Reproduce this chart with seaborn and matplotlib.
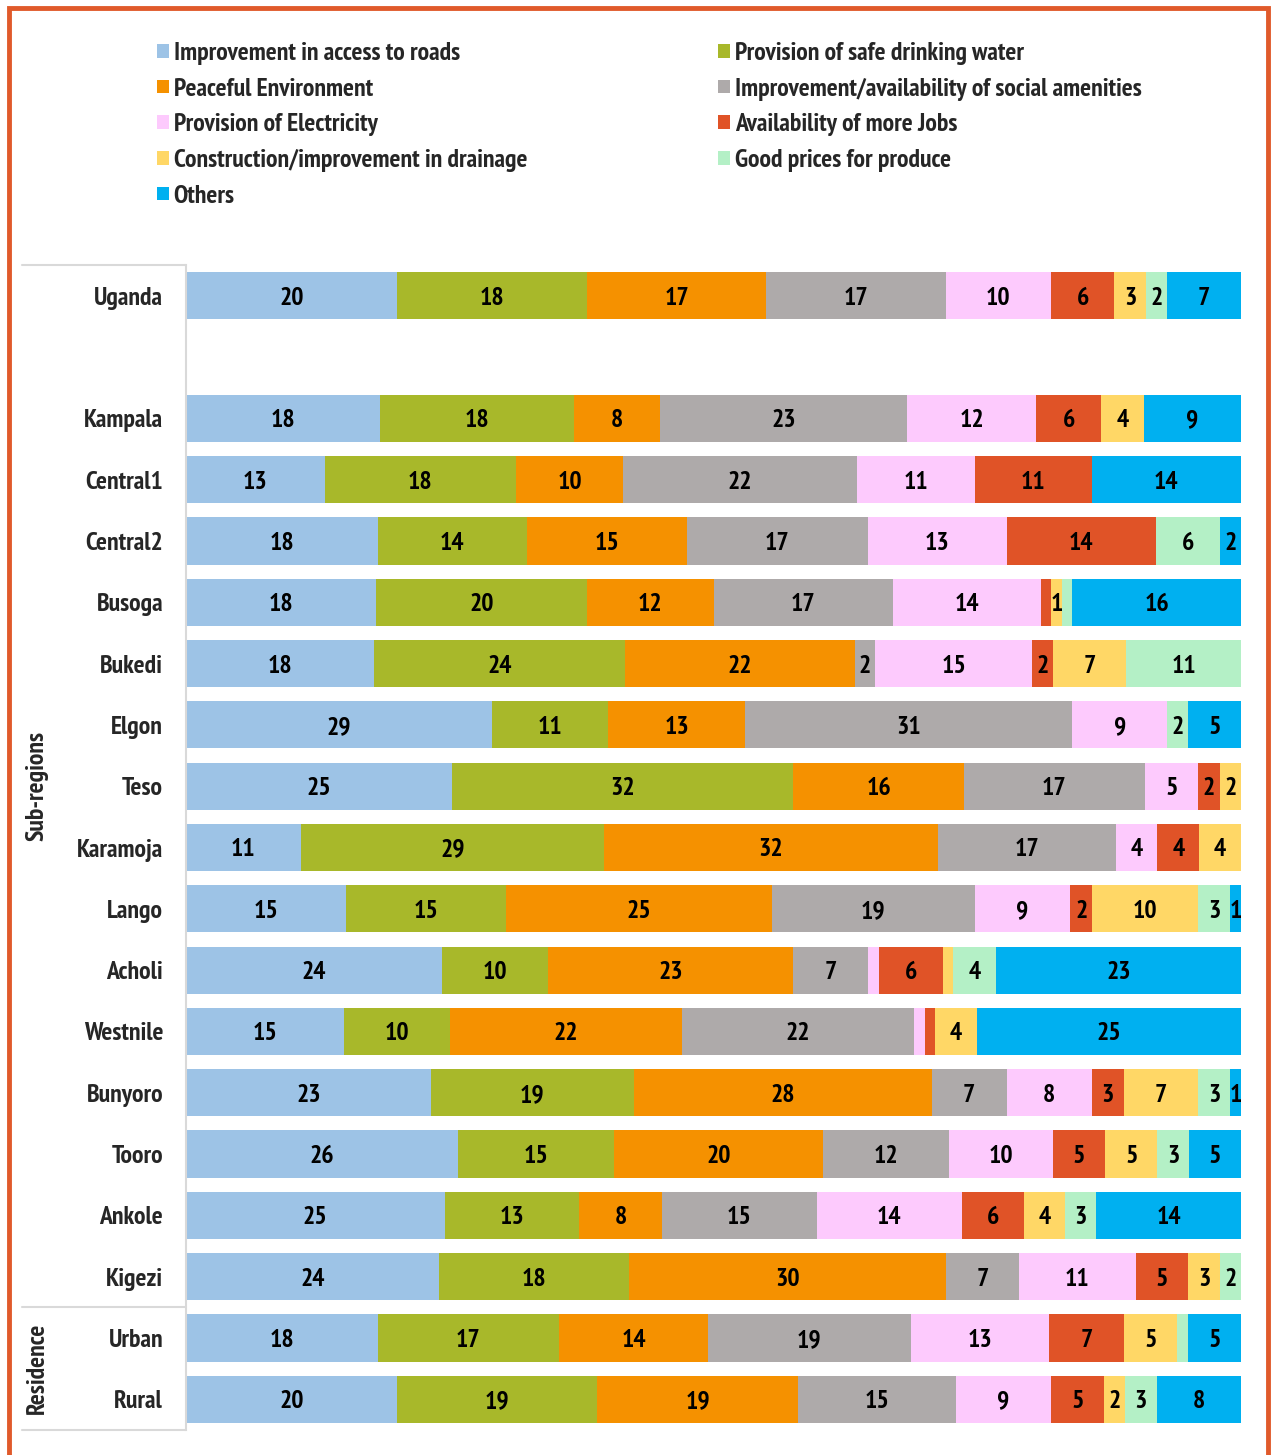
import numpy as np
import pandas as pd
import seaborn as sns
import matplotlib.pyplot as plt
from matplotlib import font_manager as fm
from matplotlib.patches import Patch, Rectangle
from matplotlib.lines import Line2D
import matplotlib.transforms as mtransforms

# ---------------- data ----------------
categories = [
    "Improvement in access to roads",
    "Provision of safe drinking water",
    "Peaceful Environment",
    "Improvement/availability of social amenities",
    "Provision of Electricity",
    "Availability of more Jobs",
    "Construction/improvement in drainage",
    "Good prices for produce",
    "Others",
]
colors = ["#9DC3E6", "#A8B82A", "#F59100", "#AEAAAA", "#FDCAFD",
          "#E05327", "#FFD766", "#B4F0C6", "#00B0F0"]

rows = ["Uganda", "Kampala", "Central1", "Central2", "Busoga", "Bukedi", "Elgon",
        "Teso", "Karamoja", "Lango", "Acholi", "Westnile", "Bunyoro", "Tooro",
        "Ankole", "Kigezi", "Urban", "Rural"]

uganda   = [20, 18, 17, 17, 10, 6, 3, 2, 7]
kampala  = [18, 18, 8, 23, 12, 6, 4, 0, 9]
central1 = [13, 18, 10, 22, 11, 11, 0, 0, 14]
central2 = [18, 14, 15, 17, 13, 14, 0, 6, 2]
busoga   = [18, 20, 12, 17, 14, 1, 1, 1, 16]
bukedi   = [18, 24, 22, 2, 15, 2, 7, 11, 0]
elgon    = [29, 11, 13, 31, 9, 0, 0, 2, 5]
teso     = [25, 32, 16, 17, 5, 2, 2, 0, 0]
karamoja = [11, 29, 32, 17, 4, 4, 4, 0, 0]
lango    = [15, 15, 25, 19, 9, 2, 10, 3, 1]
acholi   = [24, 10, 23, 7, 1, 6, 1, 4, 23]
westnile = [15, 10, 22, 22, 1, 1, 4, 0, 25]
bunyoro  = [23, 19, 28, 7, 8, 3, 7, 3, 1]
tooro    = [26, 15, 20, 12, 10, 5, 5, 3, 5]
ankole   = [25, 13, 8, 15, 14, 6, 4, 3, 14]
kigezi   = [24, 18, 30, 7, 11, 5, 3, 2, 0]
urban    = [18, 17, 14, 19, 13, 7, 5, 1, 5]
rural    = [20, 19, 19, 15, 9, 5, 2, 3, 8]

values = [uganda, kampala, central1, central2, busoga, bukedi, elgon, teso, karamoja,
          lango, acholi, westnile, bunyoro, tooro, ankole, kigezi, urban, rural]

# segments whose value label is not shown in the original
hidden_labels = {("Busoga", 5), ("Busoga", 7), ("Acholi", 4), ("Acholi", 6),
                 ("Westnile", 4), ("Westnile", 5), ("Urban", 7)}

spacer = " "
order = [rows[0], spacer] + rows[1:]

# ---------------- style ----------------
sns.set_theme(style="white")

# look for a narrow / condensed bold face; fall back to Liberation Sans
def find_condensed():
    cands = []
    for f in fm.fontManager.ttflist:
        nm = f.name.lower()
        fn = f.fname.lower()
        score = None
        if "narrow" in nm or "narrow" in fn:
            score = 0
        elif "condensed" in nm or "condensed" in fn or str(f.stretch) in ("condensed", "semi-condensed", "500", "75", "87"):
            if "semicondensed" in fn or "semi" in str(f.stretch):
                score = 3
            else:
                score = 1 if "dejavu" not in nm else 2
        if score is None:
            continue
        if "oblique" in fn or "italic" in fn or f.style != "normal":
            continue
        w = f.weight if isinstance(f.weight, int) else 700 if "bold" in str(f.weight) else 400
        if w < 600:
            score += 0.5
        cands.append((score, f.fname))
    cands.sort()
    return cands[0][1] if cands else None

cfile = find_condensed()
if cfile:
    fm.fontManager.addfont(cfile)
    base = fm.FontProperties(fname=cfile)
    fam = [base.get_name(), "DejaVu Sans"]
    fs = 18.5
else:
    fam = ["Liberation Sans", "DejaVu Sans"]
    fs = 14

plt.rcParams["font.family"] = fam
plt.rcParams["font.weight"] = "bold"

def fp(size=fs):
    if cfile:
        return fm.FontProperties(fname=cfile, size=size)
    return fm.FontProperties(family=fam, weight="bold", size=size)

W, H = 1272, 1455
fig = plt.figure(figsize=(W / 100, H / 100), dpi=100)
ax = fig.add_axes([186 / W, (H - 1430) / H, (1241 - 186) / W, (1430 - 265) / H])

vals = np.array(values, dtype=float)
pct = vals / vals.sum(axis=1, keepdims=True) * 100
cum = np.cumsum(pct, axis=1)

df = pd.DataFrame(cum, columns=categories)
df["row"] = rows

for k in range(len(categories) - 1, -1, -1):
    sns.barplot(data=df, x=categories[k], y="row", order=order, orient="h",
                color=colors[k], saturation=1, width=0.77, errorbar=None,
                linewidth=0, ax=ax)

# labels
for i, r in enumerate(rows):
    ypos = order.index(r)
    for k in range(len(categories)):
        v = values[i][k]
        if v <= 0 or (r, k) in hidden_labels:
            continue
        left = cum[i, k] - pct[i, k]
        ax.text(left + pct[i, k] / 2, ypos, str(v), ha="center",
                va="center_baseline", fontproperties=fp(), color="black")

ax.set_xlim(0, 100)
ax.set_ylim(len(order) - 0.5, -0.5)
ax.set_xlabel("")
ax.set_ylabel("")
ax.set_xticks([])
ax.tick_params(axis="y", length=0, pad=16.5)
for lab in ax.get_yticklabels():
    lab.set_fontproperties(fp())
    lab.set_verticalalignment("center_baseline")
for s in ["top", "right", "bottom"]:
    ax.spines[s].set_visible(False)
ax.spines["left"].set_color("#D9D9D9")
ax.spines["left"].set_linewidth(1.5)

# table-like lines on the label column
trans = mtransforms.blended_transform_factory(fig.transFigure, ax.transData)
for yy in [-0.5, order.index("Kigezi") + 0.5, len(order) - 0.5]:
    fig.add_artist(Line2D([22 / W, 186 / W], [yy, yy], transform=trans,
                          color="#D9D9D9", lw=1.5))

# group labels
fig.text(37 / W, (-0.5 + order.index("Kigezi") + 0.5) / 2, "Sub-regions", rotation=90,
         ha="center", va="center", fontproperties=fp(), transform=trans)
fig.text(37 / W, (order.index("Kigezi") + 0.5 + len(order) - 0.5) / 2, "Residence",
         rotation=90, ha="center", va="center", fontproperties=fp(), transform=trans)

# legend: two columns placed explicitly
fs_px = fs * 100 / 72
ls = 35 / fs_px - 0.87
col1 = [0, 2, 4, 6, 8]
col2 = [1, 3, 5, 7]
for idx, x0 in [(col1, 157), (col2, 718)]:
    handles = [Patch(facecolor=colors[k], edgecolor="none") for k in idx]
    labels = [categories[k] for k in idx]
    fig.legend(handles, labels, ncol=1, loc="upper left",
               bbox_to_anchor=(x0 / W, 1 - 42 / H), frameon=False,
               handlelength=0.45, handleheight=0.45, handletextpad=0.2,
               labelspacing=ls, borderpad=0, borderaxespad=0, prop=fp())

# outer border
fig.add_artist(Rectangle((9 / W, -0.02), (1268 - 9) / W, 1.02 - 8 / H,
                         transform=fig.transFigure, fill=False,
                         edgecolor="#E05A2B", lw=3.5))

fig.savefig("out.png", dpi=100)
